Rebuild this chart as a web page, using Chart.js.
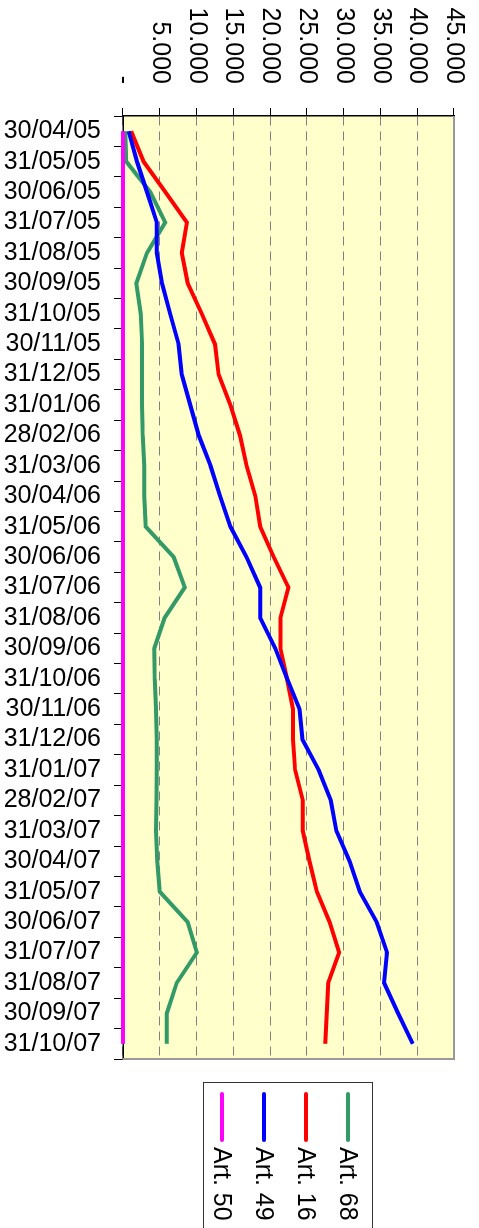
<!DOCTYPE html>
<html>
<head>
<meta charset="utf-8">
<script src="https://cdn.jsdelivr.net/npm/chart.js@4.4.0/dist/chart.umd.min.js"></script>
<style>
  html, body { margin: 0; padding: 0; background: #fff; overflow: hidden; }
  #giro {
    position: absolute; left: 0; top: 0;
    width: 1228px; height: 479px;
    transform-origin: 0 0;
    transform: translateX(479px) rotate(90deg);
  }
</style>
</head>
<body>
<div id="giro"><canvas id="grafico" width="1228" height="479"></canvas></div>
<script>
const fechas = [
  '30/04/05', '31/05/05', '30/06/05', '31/07/05', '31/08/05', '30/09/05',
  '31/10/05', '30/11/05', '31/12/05', '31/01/06', '28/02/06', '31/03/06',
  '30/04/06', '31/05/06', '30/06/06', '31/07/06', '31/08/06', '30/09/06',
  '31/10/06', '30/11/06', '31/12/06', '31/01/07', '28/02/07', '31/03/07',
  '30/04/07', '31/05/07', '30/06/07', '31/07/07', '31/08/07', '30/09/07',
  '31/10/07'
];

const art68 = [300, 450, 3700, 5750, 3260, 1800, 2400, 2600, 2600, 2600, 2700,
  2900, 2900, 3100, 6900, 8400, 5650, 4250, 4300, 4500, 4600, 4600, 4550,
  4500, 4650, 5000, 8800, 10050, 7300, 5950, 5950];

const art16 = [1100, 2800, 5750, 8700, 8000, 8800, 10700, 12500, 13000, 14600,
  15900, 16800, 18000, 18650, 20500, 22500, 21400, 21400, 22300, 23100, 23100,
  23400, 24450, 24450, 25350, 26350, 28100, 29400, 27900, 27700, 27500];

const art49 = [770, 1900, 3260, 4600, 4600, 5300, 6400, 7560, 8000, 9140,
  10300, 11900, 13200, 14600, 16800, 18650, 18650, 20700, 22300, 24000, 24400,
  26600, 28250, 29000, 30800, 32200, 34500, 35900, 35500, 37400, 39400];

const art50 = [0, 0, 0, 0, 0, 0, 0, 0, 0, 0, 0, 0, 0, 0, 0, 0, 0, 0, 0, 0, 0,
  0, 0, 0, 0, 0, 0, 0, 0, 0, 0];

const marcasValor = [0, 5000, 10000, 15000, 20000, 25000, 30000, 35000, 40000, 45000];

const fuente = { family: "'Liberation Sans', Arial, sans-serif", size: 25 };

function formatoMiles(v) {
  if (v === 0) return '-';
  return String(v).replace(/\B(?=(\d{3})+(?!\d))/g, '.');
}

// fondo amarillo y borde gris del area de trazado
const fondoArea = {
  id: 'fondoArea',
  beforeDraw(chart) {
    const { ctx, chartArea: a } = chart;
    ctx.save();
    ctx.fillStyle = '#FFFFCC';
    ctx.fillRect(a.left, a.top, a.right - a.left, a.bottom - a.top);
    ctx.restore();
  },
  beforeDatasetsDraw(chart) {
    const { ctx, chartArea: a } = chart;
    ctx.save();
    ctx.strokeStyle = '#999999';
    ctx.lineWidth = 2;
    ctx.beginPath();
    ctx.moveTo(a.left, a.top);
    ctx.lineTo(a.right, a.top);
    ctx.lineTo(a.right, a.bottom);
    ctx.stroke();
    ctx.restore();
  }
};

// leyenda con marco, como en la hoja original
const leyenda = {
  id: 'leyenda',
  afterDraw(chart) {
    const { ctx } = chart;
    const x0 = 1082, y0 = 106;
    ctx.save();
    ctx.strokeStyle = '#333';
    ctx.lineWidth = 1;
    ctx.strokeRect(x0 + 0.5, y0 + 0.5, 200, 169);
    ctx.font = "25px 'Liberation Sans', Arial, sans-serif";
    ctx.fillStyle = '#000';
    ctx.textBaseline = 'middle';
    const orden = chart.data.datasets.slice().reverse();
    orden.forEach((ds, i) => {
      const y = 131 + i * 42;
      ctx.strokeStyle = ds.borderColor;
      ctx.lineWidth = 4;
      ctx.lineCap = 'round';
      ctx.beginPath();
      ctx.moveTo(x0 + 12, y);
      ctx.lineTo(x0 + 58, y);
      ctx.stroke();
      ctx.fillText(ds.label, x0 + 65, y + 1);
    });
    ctx.restore();
  }
};

const ctx = document.getElementById('grafico').getContext('2d');
new Chart(ctx, {
  type: 'line',
  data: {
    labels: fechas,
    datasets: [
      { label: 'Art. 50', data: art50, borderColor: '#FF00FF' },
      { label: 'Art. 49', data: art49, borderColor: '#0000FF' },
      { label: 'Art. 16', data: art16, borderColor: '#FF0000' },
      { label: 'Art. 68', data: art68, borderColor: '#339966' }
    ]
  },
  options: {
    responsive: false,
    animation: false,
    events: [],
    layout: { padding: { left: 0, top: 25, right: 169, bottom: 0 } },
    datasets: {
      line: { borderWidth: 4, tension: 0, pointRadius: 0, clip: false, fill: false }
    },
    plugins: {
      legend: { display: false },
      tooltip: { enabled: false }
    },
    scales: {
      x: {
        type: 'category',
        offset: true,
        grid: {
          display: true, drawOnChartArea: false, offset: true,
          color: '#000', tickLength: 9, lineWidth: 1
        },
        border: { color: '#000', width: 1.5 },
        ticks: {
          autoSkip: false, maxRotation: 90, minRotation: 90,
          padding: 13, color: '#000', font: fuente
        },
        afterFit(scale) { scale.height = 123; }
      },
      y: {
        min: 0,
        max: 45000,
        afterBuildTicks(scale) { scale.ticks = marcasValor.map(v => ({ value: v })); },
        grid: {
          color: '#808080', lineWidth: 1, tickColor: '#000', tickLength: 8
        },
        border: { color: '#000', width: 1.5, dash: [9, 6] },
        ticks: {
          padding: 24, color: '#000', font: fuente,
          callback: v => formatoMiles(v)
        },
        afterFit(scale) {
          scale.width = 116;
          scale.paddingTop = 0;
          scale.paddingBottom = 0;
        }
      }
    }
  },
  plugins: [fondoArea, leyenda]
});
</script>
</body>
</html>
